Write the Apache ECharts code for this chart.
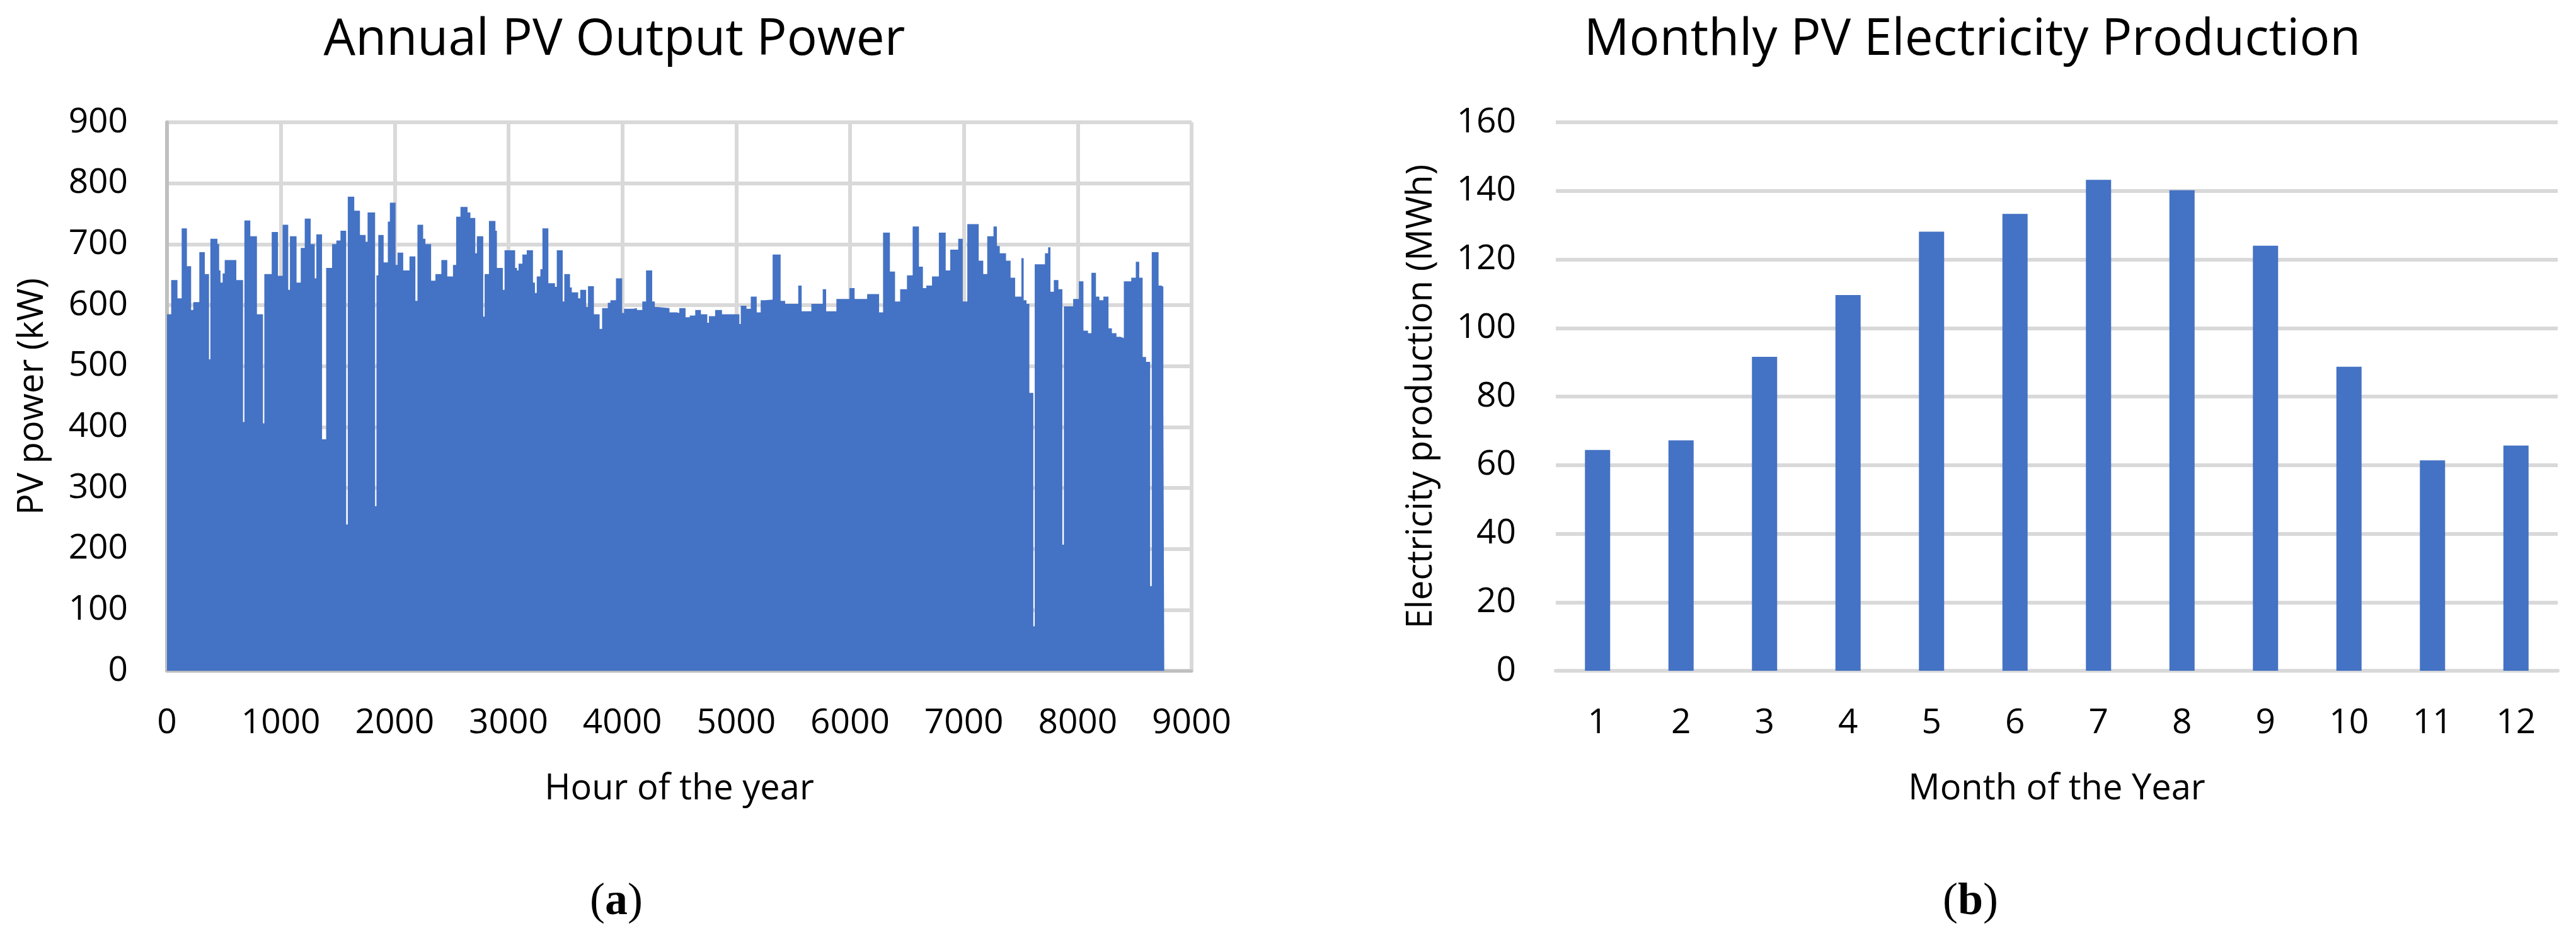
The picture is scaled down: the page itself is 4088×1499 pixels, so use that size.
<!DOCTYPE html>
<html>
<head>
<meta charset="utf-8">
<script src="https://cdn.jsdelivr.net/npm/echarts@6/dist/echarts.min.js"></script>
<style>
html,body{margin:0;padding:0;background:#fff;}
#c{width:4088px;height:1499px;}
</style>
</head>
<body>
<div id="c"></div>
<script>
// ---- Panel (a): envelope of hourly PV output power (daily peaks) ----
// start hour of each flat segment
const pvHours = [0,37,92,129,175,212,231,284,332,369,381,443,458,470,489,507,609,668,680,732,790,843,855,920,975,1016,1065,1080,1138,1175,1210,1262,1298,1312,1362,1398,1450,1488,1524,1574,1588,1645,1695,1745,1762,1828,1840,1856,1903,1940,1958,2008,2025,2075,2130,2182,2200,2250,2270,2320,2358,2410,2462,2512,2540,2578,2640,2665,2708,2722,2778,2790,2828,2885,2898,2950,2965,3058,3075,3088,3122,3160,3215,3232,3248,3280,3298,3350,3408,3424,3476,3490,3540,3556,3612,3630,3682,3698,3750,3800,3822,3872,3895,3944,3998,4015,4095,4128,4175,4208,4262,4285,4310,4414,4478,4500,4555,4592,4640,4690,4746,4760,4815,4875,5028,5040,5090,5128,5180,5215,5252,5320,5390,5430,5545,5575,5660,5760,5790,5880,5995,6040,6150,6255,6290,6350,6395,6440,6500,6550,6605,6640,6670,6720,6780,6840,6880,6950,6990,7030,7130,7170,7205,7260,7290,7315,7370,7410,7450,7505,7525,7550,7575,7610,7622,7712,7740,7760,7790,7830,7865,7878,7960,8010,8050,8090,8120,8160,8190,8225,8270,8300,8340,8375,8405,8470,8510,8540,8570,8600,8636,8650,8710,8735,8752,8760];
// PV power (kW) held over each segment
const pvPower = [585,641,611,726,664,592,605,687,651,511,709,700,657,637,652,674,641,408,739,713,585,406,651,720,648,732,625,713,637,694,742,700,644,716,380,661,700,706,722,240,778,755,715,704,752,270,649,715,670,737,768,666,686,657,680,607,732,709,700,640,651,674,647,666,745,761,752,743,685,713,581,651,738,722,661,625,690,661,657,668,683,690,637,620,647,659,726,636,630,690,606,651,629,621,611,625,597,631,585,561,595,604,608,644,587,594,595,592,606,657,606,597,595,588,587,595,580,583,592,585,571,582,592,585,569,599,594,614,588,608,609,683,607,602,632,590,602,626,590,610,628,610,618,588,719,655,606,626,649,729,663,628,632,647,719,657,691,709,606,733,673,651,713,729,697,685,673,645,614,677,608,602,456,73,667,685,695,622,641,626,207,598,610,639,558,554,653,614,608,614,562,554,548,546,639,645,671,645,515,507,139,687,632,630,424,0];

// ---- Panel (b): monthly PV electricity production ----
const months = ['1','2','3','4','5','6','7','8','9','10','11','12'];
const monthlyMWh = [64.4, 67.2, 91.6, 109.6, 128.1, 133.3, 143.2, 140.2, 124.0, 88.7, 61.4, 65.7];

const FONT = '"Open Sans", "Noto Sans", sans-serif';
const BLUE = '#4472c4';
const GRID = '#d9d9d9';

const chart = echarts.init(document.getElementById('c'), null, {renderer: 'canvas'});

const lbl = {fontFamily: FONT, fontSize: 55, color: '#000'};
const nameStyle = {fontFamily: FONT, fontSize: 56, color: '#000'};
const plain = v => String(v);

chart.setOption({
  animation: false,
  backgroundColor: '#fff',
  grid: [
    {left: 265, top: 194, width: 1626, height: 870},
    {left: 2469, top: 194, width: 1590, height: 870}
  ],
  xAxis: [
    {
      gridIndex: 0, type: 'value', min: 0, max: 9000, interval: 1000,
      axisLine: {show: true, lineStyle: {color: '#bfbfbf', width: 5}},
      axisTick: {show: false},
      splitLine: {show: true, lineStyle: {color: GRID, width: 6}},
      axisLabel: Object.assign({margin: 56, formatter: plain}, lbl),
      name: 'Hour of the year', nameLocation: 'middle', nameGap: 160,
      nameTextStyle: nameStyle
    },
    {
      gridIndex: 1, type: 'category', data: months,
      axisLine: {show: true, lineStyle: {color: GRID, width: 6}},
      axisTick: {show: false},
      splitLine: {show: false},
      axisLabel: Object.assign({margin: 56}, lbl),
      name: 'Month of the Year', nameLocation: 'middle', nameGap: 160,
      nameTextStyle: nameStyle
    }
  ],
  yAxis: [
    {
      gridIndex: 0, type: 'value', min: 0, max: 900, interval: 100,
      axisLine: {show: true, lineStyle: {color: '#bfbfbf', width: 6}},
      axisTick: {show: false},
      splitLine: {show: true, lineStyle: {color: GRID, width: 6}},
      axisLabel: Object.assign({margin: 62, formatter: plain}, lbl),
      name: 'PV power (kW)', nameLocation: 'middle', nameGap: 185,
      nameTextStyle: nameStyle
    },
    {
      gridIndex: 1, type: 'value', min: 0, max: 160, interval: 20,
      axisLine: {show: false},
      axisTick: {show: false},
      splitLine: {show: true, lineStyle: {color: GRID, width: 6}},
      axisLabel: Object.assign({margin: 63, formatter: plain}, lbl),
      name: 'Electricity production (MWh)', nameLocation: 'middle', nameGap: 185,
      nameTextStyle: nameStyle
    }
  ],
  series: [
    {
      type: 'line', xAxisIndex: 0, yAxisIndex: 0,
      data: pvHours.map((h, i) => [h, pvPower[i]]),
      step: 'end', symbol: 'none', sampling: null,
      lineStyle: {color: BLUE, width: 0, opacity: 0},
      areaStyle: {color: BLUE, opacity: 1},
      z: 3
    },
    {
      type: 'bar', xAxisIndex: 1, yAxisIndex: 1,
      data: monthlyMWh, barWidth: 40,
      itemStyle: {color: BLUE},
      z: 3
    }
  ],
  graphic: [
    {type: 'text', x: 975, y: 64, style: {text: 'Annual PV Output Power', fontFamily: FONT, fontSize: 80, fill: '#000', align: 'center', verticalAlign: 'middle'}},
    {type: 'text', x: 3130, y: 64, style: {text: 'Monthly PV Electricity Production', fontFamily: FONT, fontSize: 80, fill: '#000', align: 'center', verticalAlign: 'middle'}},
    {type: 'text', x: 978, y: 1431, style: {
      text: '{n|(}{b|a}{n|)}', align: 'center', verticalAlign: 'middle',
      rich: {n: {fontFamily: '"Liberation Serif", serif', fontSize: 72, fill: '#000'},
             b: {fontFamily: '"Liberation Serif", serif', fontSize: 72, fontWeight: 'bold', fill: '#000'}}
    }},
    {type: 'text', x: 3127, y: 1431, style: {
      text: '{n|(}{b|b}{n|)}', align: 'center', verticalAlign: 'middle',
      rich: {n: {fontFamily: '"Liberation Serif", serif', fontSize: 72, fill: '#000'},
             b: {fontFamily: '"Liberation Serif", serif', fontSize: 72, fontWeight: 'bold', fill: '#000'}}
    }}
  ]
});
</script>
</body>
</html>
